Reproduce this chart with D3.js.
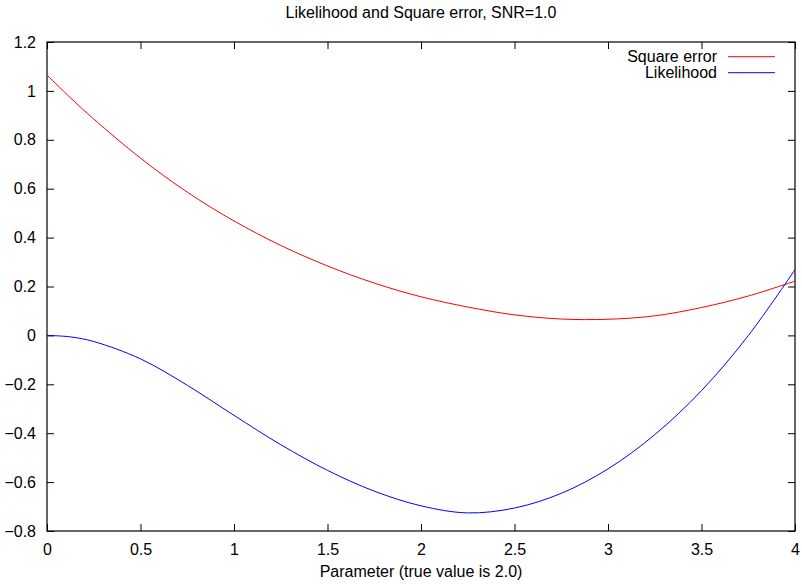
<!DOCTYPE html>
<html>
<head>
<meta charset="utf-8">
<script src="https://cdn.jsdelivr.net/npm/d3@7"></script>
<style>
  body { margin: 0; background: #fff; }
  svg { display: block; }
  text { font-family: "Liberation Sans", Arial, sans-serif; fill: #000; }
</style>
</head>
<body>
<svg id="chart" width="802" height="587"></svg>
<script>
// values
var params = [0, 0.125, 0.25, 0.5, 0.75, 1, 1.25, 1.5, 1.75, 2, 2.25, 2.5, 2.75, 3, 3.25, 3.5, 3.75, 4];
var squareError = [1.065, 0.972, 0.885, 0.725, 0.586, 0.468, 0.368, 0.284, 0.214, 0.158, 0.116, 0.084, 0.067, 0.066, 0.080, 0.114, 0.161, 0.222];
var likelihood = [0, -0.006, -0.025, -0.096, -0.204, -0.327, -0.447, -0.552, -0.637, -0.697, -0.726, -0.706, -0.646, -0.546, -0.406, -0.226, -0.001, 0.269];
var xTicks = [0, 0.5, 1, 1.5, 2, 2.5, 3, 3.5, 4];
var yTicks = [-0.8, -0.6, -0.4, -0.2, 0, 0.2, 0.4, 0.6, 0.8, 1, 1.2];
var seriesNames = ["Square error", "Likelihood"];
var seriesColors = ["#ff0000", "#0000ff"];

var margin = {left: 47, right: 7, top: 42, bottom: 56};
var width = 802, height = 587;

var svg = d3.select("#chart");

var x = d3.scaleLinear().domain([0, 4]).range([margin.left, width - margin.right]);
var y = d3.scaleLinear().domain([-0.8, 1.2]).range([height - margin.bottom, margin.top]);

var fmt = function(d) { return d3.format("")(+d.toFixed(1)); };
var tickLen = 7;

// ticks point inward, mirrored on top and right
svg.append("g")
  .attr("transform", "translate(0," + y(-0.8) + ")")
  .call(d3.axisBottom(x).tickValues(xTicks).tickFormat(fmt).tickSizeInner(-tickLen).tickSizeOuter(0).tickPadding(12.5))
  .call(function(g) { g.select(".domain").remove(); });

svg.append("g")
  .attr("transform", "translate(" + x(0) + ",0)")
  .call(d3.axisLeft(y).tickValues(yTicks).tickFormat(fmt).tickSizeInner(-tickLen).tickSizeOuter(0).tickPadding(11))
  .call(function(g) { g.select(".domain").remove(); });

svg.append("g")
  .attr("transform", "translate(0," + y(1.2) + ")")
  .call(d3.axisTop(x).tickValues(xTicks).tickFormat("").tickSizeInner(-tickLen).tickSizeOuter(0))
  .call(function(g) { g.select(".domain").remove(); });

svg.append("g")
  .attr("transform", "translate(" + x(4) + ",0)")
  .call(d3.axisRight(y).tickValues(yTicks).tickFormat("").tickSizeInner(-tickLen).tickSizeOuter(0))
  .call(function(g) { g.select(".domain").remove(); });

svg.selectAll(".tick line").attr("stroke", "#000").attr("stroke-width", 1);
svg.selectAll(".tick text").style("font-size", "16px").style("font-family", "'Liberation Sans', Arial, sans-serif").attr("fill", "#000");

svg.append("rect")
  .attr("x", x(0)).attr("y", y(1.2))
  .attr("width", x(4) - x(0)).attr("height", y(-0.8) - y(1.2))
  .attr("fill", "none").attr("stroke", "#000").attr("stroke-width", 1.2);

var line = d3.line()
  .x(function(d) { return x(d[0]); })
  .y(function(d) { return y(d[1]); })
  .curve(d3.curveCatmullRom.alpha(0.5));

var series = [squareError, likelihood];
series.forEach(function(vals, i) {
  svg.append("path")
    .datum(params.map(function(p, j) { return [p, vals[j]]; }))
    .attr("fill", "none")
    .attr("stroke", seriesColors[i])
    .attr("stroke-width", 1)
    .attr("d", line);
});

// legend, top right
var legend = svg.append("g");
seriesNames.forEach(function(name, i) {
  var ly = 56.7 + i * 16;
  legend.append("text")
    .attr("x", 717).attr("y", ly + 5.5)
    .attr("text-anchor", "end")
    .style("font-size", "16px")
    .text(name);
  legend.append("line")
    .attr("x1", 728).attr("x2", 775)
    .attr("y1", ly).attr("y2", ly)
    .attr("stroke", seriesColors[i]).attr("stroke-width", 1);
});

svg.append("text")
  .attr("x", (x(0) + x(4)) / 2).attr("y", 18)
  .attr("text-anchor", "middle")
  .style("font-size", "16px")
  .text("Likelihood and Square error, SNR=1.0");

svg.append("text")
  .attr("x", (x(0) + x(4)) / 2).attr("y", 577)
  .attr("text-anchor", "middle")
  .style("font-size", "16px")
  .text("Parameter (true value is 2.0)");
</script>
</body>
</html>
